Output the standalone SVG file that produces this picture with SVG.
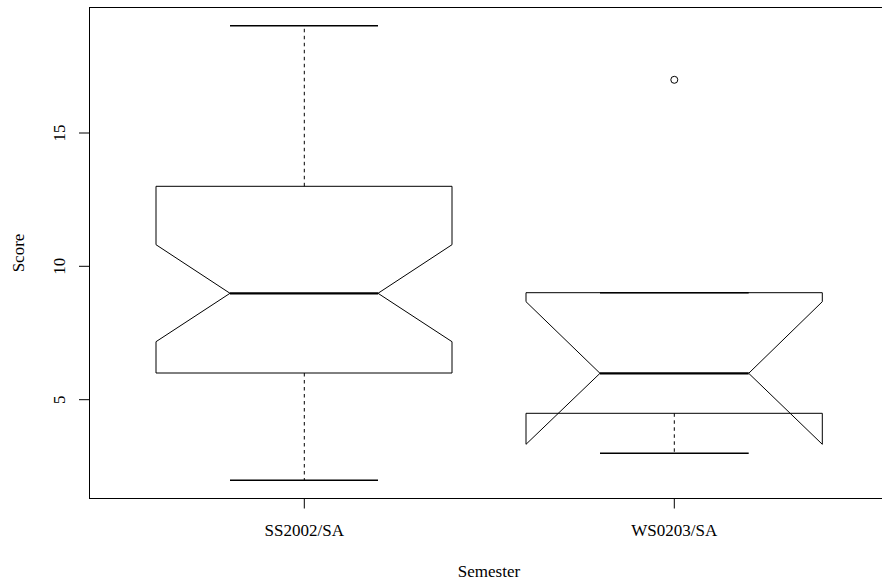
<svg xmlns="http://www.w3.org/2000/svg" width="882" height="581" viewBox="0 0 882 581">
<style>
.ln{fill:none;stroke:#000;stroke-width:1}
.dash{fill:none;stroke:#000;stroke-width:1;stroke-dasharray:3.5,3.5}
.cap{fill:none;stroke:#000;stroke-width:1.5}
.med{fill:none;stroke:#000;stroke-width:2.2}
.t{font-family:"Liberation Serif","Times New Roman",serif;font-size:17px;fill:#000}
</style>
<rect width="882" height="581" fill="#fff"/>
<g id="frame">
<rect class="ln" x="89.5" y="7.5" width="800" height="491"/>
</g>
<g id="y-axis">
<line class="ln" x1="79" y1="133" x2="89" y2="133"/>
<line class="ln" x1="79" y1="266.3" x2="89" y2="266.3"/>
<line class="ln" x1="79" y1="399.7" x2="89" y2="399.7"/>
<text class="t" text-anchor="middle" transform="translate(65,133) rotate(-90)">15</text>
<text class="t" text-anchor="middle" transform="translate(65,266.3) rotate(-90)">10</text>
<text class="t" text-anchor="middle" transform="translate(65,399.7) rotate(-90)">5</text>
<text class="t" text-anchor="middle" transform="translate(24,253) rotate(-90)">Score</text>
</g>
<g id="x-axis">
<line class="ln" x1="304.3" y1="498.5" x2="304.3" y2="508.5"/>
<line class="ln" x1="674.3" y1="498.5" x2="674.3" y2="508.5"/>
<text class="t" text-anchor="middle" x="304.3" y="536">SS2002/SA</text>
<text class="t" text-anchor="middle" x="674.3" y="536">WS0203/SA</text>
<text class="t" text-anchor="middle" x="489" y="577">Semester</text>
</g>
<g id="connectors">
<line class="dash" x1="304.3" y1="186.3" x2="304.3" y2="25.7"/>
<line class="dash" x1="304.3" y1="373" x2="304.3" y2="480.3"/>
<line class="dash" x1="674.3" y1="413.3" x2="674.3" y2="453.3"/>
</g>
<g id="box-SS2002">
<path class="ln" d="M156,373 L156,341.7 L230,293.3 L156,244.7 L156,186.3 L452,186.3 L452,244.7 L378,293.3 L452,341.7 L452,373 Z"/>
<line class="med" x1="230" y1="293.3" x2="378" y2="293.3"/>
<line class="cap" x1="230" y1="25.7" x2="378" y2="25.7"/>
<line class="cap" x1="230" y1="480.3" x2="378" y2="480.3"/>
</g>
<g id="box-WS0203">
<path class="ln" d="M526,413.3 L526,444.3 L600,373.3 L526,301.7 L526,292.7 L822.3,292.7 L822.3,301.7 L748.7,373.3 L822.3,444.3 L822.3,413.3 Z"/>
<line class="med" x1="600" y1="373.3" x2="748.7" y2="373.3"/>
<line class="cap" x1="600" y1="292.7" x2="748.7" y2="292.7"/>
<line class="cap" x1="600" y1="453.3" x2="748.7" y2="453.3"/>
<circle class="ln" cx="674.3" cy="79.8" r="3.5"/>
</g>
</svg>
